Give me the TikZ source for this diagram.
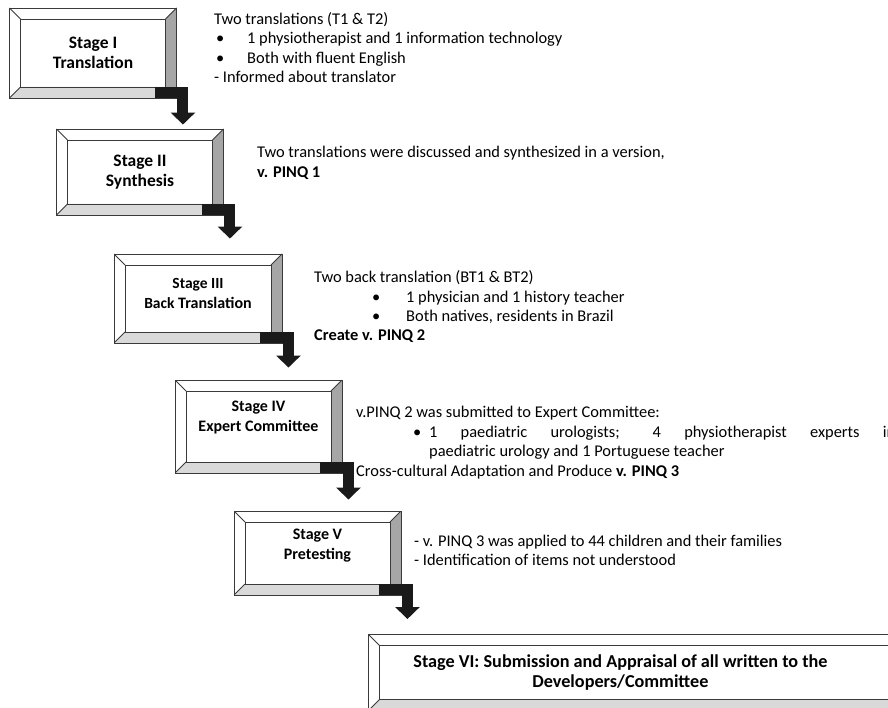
\documentclass[tikz,border=0pt]{standalone}
\usepackage{fontspec}
\setmainfont{Carlito}
\usetikzlibrary{arrows.meta,positioning,calc}
\definecolor{frameGray}{HTML}{3A3A3A}
\definecolor{sideGray}{HTML}{A6A6A6}
\definecolor{baseGray}{HTML}{D9D9D9}
\definecolor{pipeBlack}{HTML}{1A1A1A}

\begin{document}
\begin{tikzpicture}[
    x=1pt, y=-1pt,
    stage/.style={draw=frameGray, line width=0.9pt, fill=white, inner sep=0pt,
                  minimum width=167pt, minimum height=88pt, align=center,
                  font=\fontsize{16}{20}\selectfont\bfseries,
                  path picture={
                    \path (path picture bounding box.north west) coordinate (bnw)
                          (path picture bounding box.north east) coordinate (bne)
                          (path picture bounding box.south west) coordinate (bsw)
                          (path picture bounding box.south east) coordinate (bse);
                    \fill[sideGray] (bne) -- ++(-11pt,-11pt) coordinate (ine)
                      -- ([shift={(-11pt,11pt)}]bse) coordinate (ise) -- (bse) -- cycle;
                    \fill[baseGray] (bsw) -- ++(11pt,11pt) coordinate (isw) -- (ise) -- (bse) -- cycle;
                    \draw[frameGray, line width=0.9pt]
                      ([shift={(11pt,-11pt)}]bnw) coordinate (inw) rectangle (ise);
                    \draw[frameGray, line width=0.9pt]
                      (bnw) -- (inw) (bne) -- (ine) (bsw) -- (isw) (bse) -- (ise);
                  }},
    big/.style={font=\fontsize{17.5}{20}\selectfont\bfseries},
    note/.style={anchor=base west, inner sep=0pt, align=left,
                 font=\fontsize{16.4}{19.5}\selectfont},
    elbow/.style={draw=pipeBlack, line width=11pt,
                  -{Triangle[length=12pt,width=24pt]}}
  ]
    \useasboundingbox (0,0) rectangle (888,708);
    \clip (0,0) rectangle (888,708);

    % Stages
    \node[stage, big, minimum height=90pt] (s1) at (93,53) {Stage I\\Translation};
    \node[stage, big, minimum height=86pt] (s2) at (140,172) {Stage II\\Synthesis};
    \node[stage, minimum width=168pt, minimum height=89pt] (s3) at (198,298.5)
      {{\fontsize{15.5}{19}\selectfont Stage III}\\{\fontsize{15.5}{19}\selectfont Back} Translation\\[-9pt]};
    \node[stage, minimum height=93pt] (s4) at (258.5,426.5) {Stage IV\\Expert Committee\\};
    \node[stage, minimum height=84pt] (s5) at (317.5,553) {Stage V\\Pretesting\\[-2pt]};
    \node[stage, anchor=north west, minimum width=540pt, minimum height=76pt,
          font=\fontsize{18.2}{20}\selectfont\bfseries] (s6) at (368,634)
      {Stage VI: Submission and Appraisal of all written to the\makebox[36pt]{}\\
       Developers/Committee\makebox[36pt]{}};

    % Notes beside the stages
    \node[note] (t1) at (214,83) {Two translations (T1 \& T2)\\
      \makebox[33pt][l]{\hspace{2pt}\textbullet}1 physiotherapist and 1 information technology\\
      \makebox[33pt][l]{\hspace{2pt}\textbullet}Both with fluent English\\
      - Informed about translator};
    \node[note] (t2) at (257,177.5)
      {Two translations were discussed and synthesized in a version,\\\textbf{v. PINQ 1}};
    \node[note] (t3) at (314,341) {Two back translation (BT1 \& BT2)\\
      \hspace*{58pt}\makebox[34pt][l]{\textbullet}1 physician and 1 history teacher\\
      \hspace*{58pt}\makebox[34pt][l]{\textbullet}Both natives, residents in Brazil\\
      \textbf{Create v. PINQ 2}};
    \node[note, align=justify, text width=539pt] (t4) at (356,417.5) {\parindent=0pt
      v.PINQ 2 was submitted to Expert Committee:\par
      {\leftskip=73pt \noindent\llap{\makebox[16pt][l]{\textbullet}}1 paediatric urologists; 4
       physiotherapist experts in\linebreak paediatric urology and 1 Portuguese teacher\par}
      Cross-cultural Adaptation and Produce \textbf{v. PINQ 3}};
    \node[note] (t5) at (414,565.5) {- v. PINQ 3 was applied to 44 children and their families\\
      - Identification of items not understood};

    % Elbow arrows
    \draw[elbow] ([shift={(-22pt,5.5pt)}]s1.south east) -| ($(s1.east |- s2.north)+(6pt,4pt)$);
    \draw[elbow] ([shift={(-22pt,5.5pt)}]s2.south east) -| ($(s2.east |- s3.north)+(6pt,15pt)$);
    \draw[elbow] ([shift={(-22pt,5.5pt)}]s3.south east) -| ($(s3.east |- s4.north)+(6pt,12pt)$);
    \draw[elbow] ([shift={(-22pt,5.5pt)}]s4.south east) -| ($(s4.east |- s5.north)+(6pt,11pt)$);
    \draw[elbow] ([shift={(-22pt,5.5pt)}]s5.south east) -| ($(s5.east |- s6.north)+(6pt,15pt)$);
  \end{tikzpicture}
\end{document}
